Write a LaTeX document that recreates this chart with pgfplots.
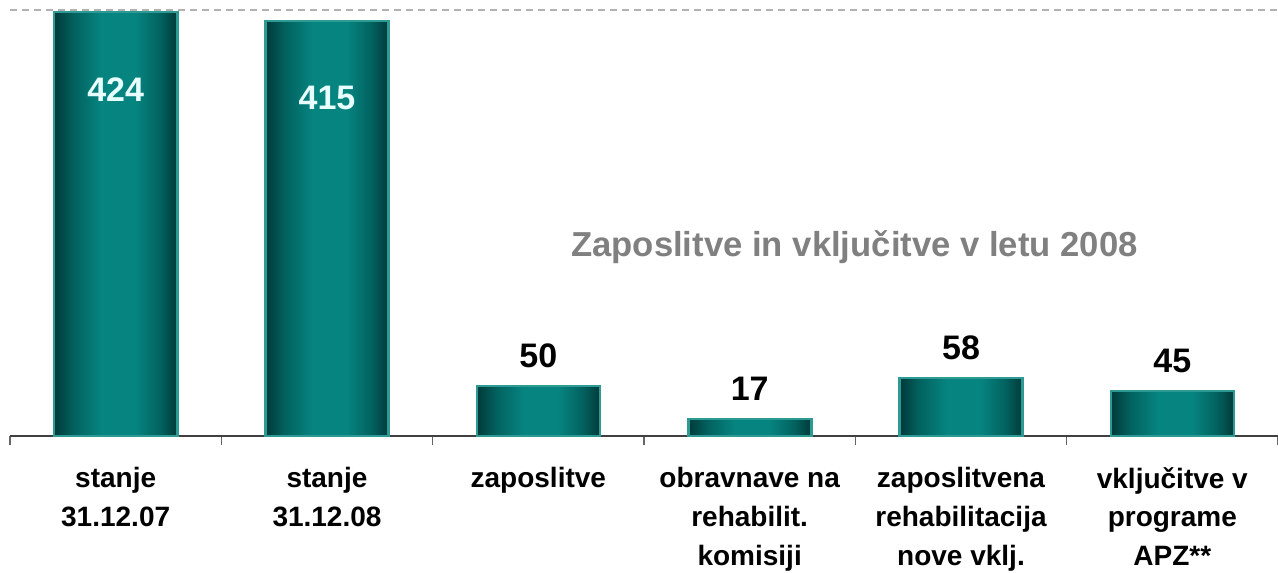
\documentclass[border=0pt]{standalone}
\usepackage{pgfplots}
\pgfplotsset{compat=1.18}
\usepackage{fontspec}
\setmainfont{Liberation Sans}

\definecolor{bardark}{HTML}{013A3A}
\definecolor{barhalf}{HTML}{02625F}
\definecolor{barmid}{HTML}{068480}
\definecolor{barline}{HTML}{2E9A94}
\definecolor{titlegray}{HTML}{808080}
\definecolor{insidetxt}{HTML}{E8FFFF}

% dark at the edges, broad teal middle (path box spans 25bp..75bp)
\pgfdeclarehorizontalshading{tealshade}{100bp}{
    color(0bp)=(bardark); color(25bp)=(bardark);
    color(33bp)=(barhalf); color(44bp)=(barmid);
    color(58bp)=(barmid); color(68bp)=(barhalf);
    color(75bp)=(bardark); color(100bp)=(bardark)}

\pgfplotsset{
    tealbar/.style={ybar, bar width=92.25pt, bar shift=0pt,
        draw=barline, line width=2pt,
        shade, shading=tealshade,
        nodes near coords},
    inlabel/.style={nodes near coords style={anchor=center, yshift=-58pt,
        text=insidetxt, font=\fontsize{25.5}{30}\selectfont\bfseries}},
    toplabel/.style={nodes near coords style={anchor=center, yshift=22.5pt,
        text=black, font=\fontsize{25.5}{30}\selectfont\bfseries}},
}

\begin{document}
\begin{tikzpicture}
\useasboundingbox (-7.5pt,-102pt) rectangle (951pt,327pt);
\begin{axis}[
    at={(0,0)}, anchor=south west,
    scale only axis,
    width=951pt, height=319.5pt,
    xmin=-0.5, xmax=5.5,
    ymin=0, ymax=426,
    axis x line*=bottom,
    axis y line=none,
    axis line style={draw=black!75, line width=1pt},
    xtick={0,...,5},
    xticklabels={
        stanje\\31.12.07,
        stanje\\31.12.08,
        zaposlitve,
        obravnave na\\rehabilit.\\komisiji,
        zaposlitvena\\rehabilitacija\\nove vklj.,
        vključitve v\\programe\\APZ**},
    major tick length=0pt,
    minor xtick={-0.5,0.5,...,5.5},
    minor tick length=7pt,
    tick align=outside,
    minor tick style={draw=black!60, line width=1pt},
    xticklabel style={font=\fontsize{21}{29}\selectfont\bfseries,
        align=center, anchor=north, yshift=-20pt},
    /pgf/number format/assume math mode=true,
    clip=false,
]
% one plot per bar, so that each bar gets its own shading
\addplot [tealbar, inlabel]  coordinates {(0,424)};
\addplot [tealbar, inlabel]  coordinates {(1,415)};
\addplot [tealbar, toplabel] coordinates {(2,50)};
\addplot [tealbar, toplabel] coordinates {(3,17)};
\addplot [tealbar, toplabel] coordinates {(4,58)};
\addplot [tealbar, toplabel] coordinates {(5,45)};

\draw [dash pattern=on 5.25pt off 3.75pt, draw=black!30, line width=0.9pt]
    (axis cs:-0.5,426) -- (axis cs:5.5,426);
\node [font=\fontsize{26}{30}\selectfont\bfseries, text=titlegray]
    at (rel axis cs:0.666,0.4437) {Zaposlitve in vključitve v letu 2008};
\end{axis}
\end{tikzpicture}
\end{document}
